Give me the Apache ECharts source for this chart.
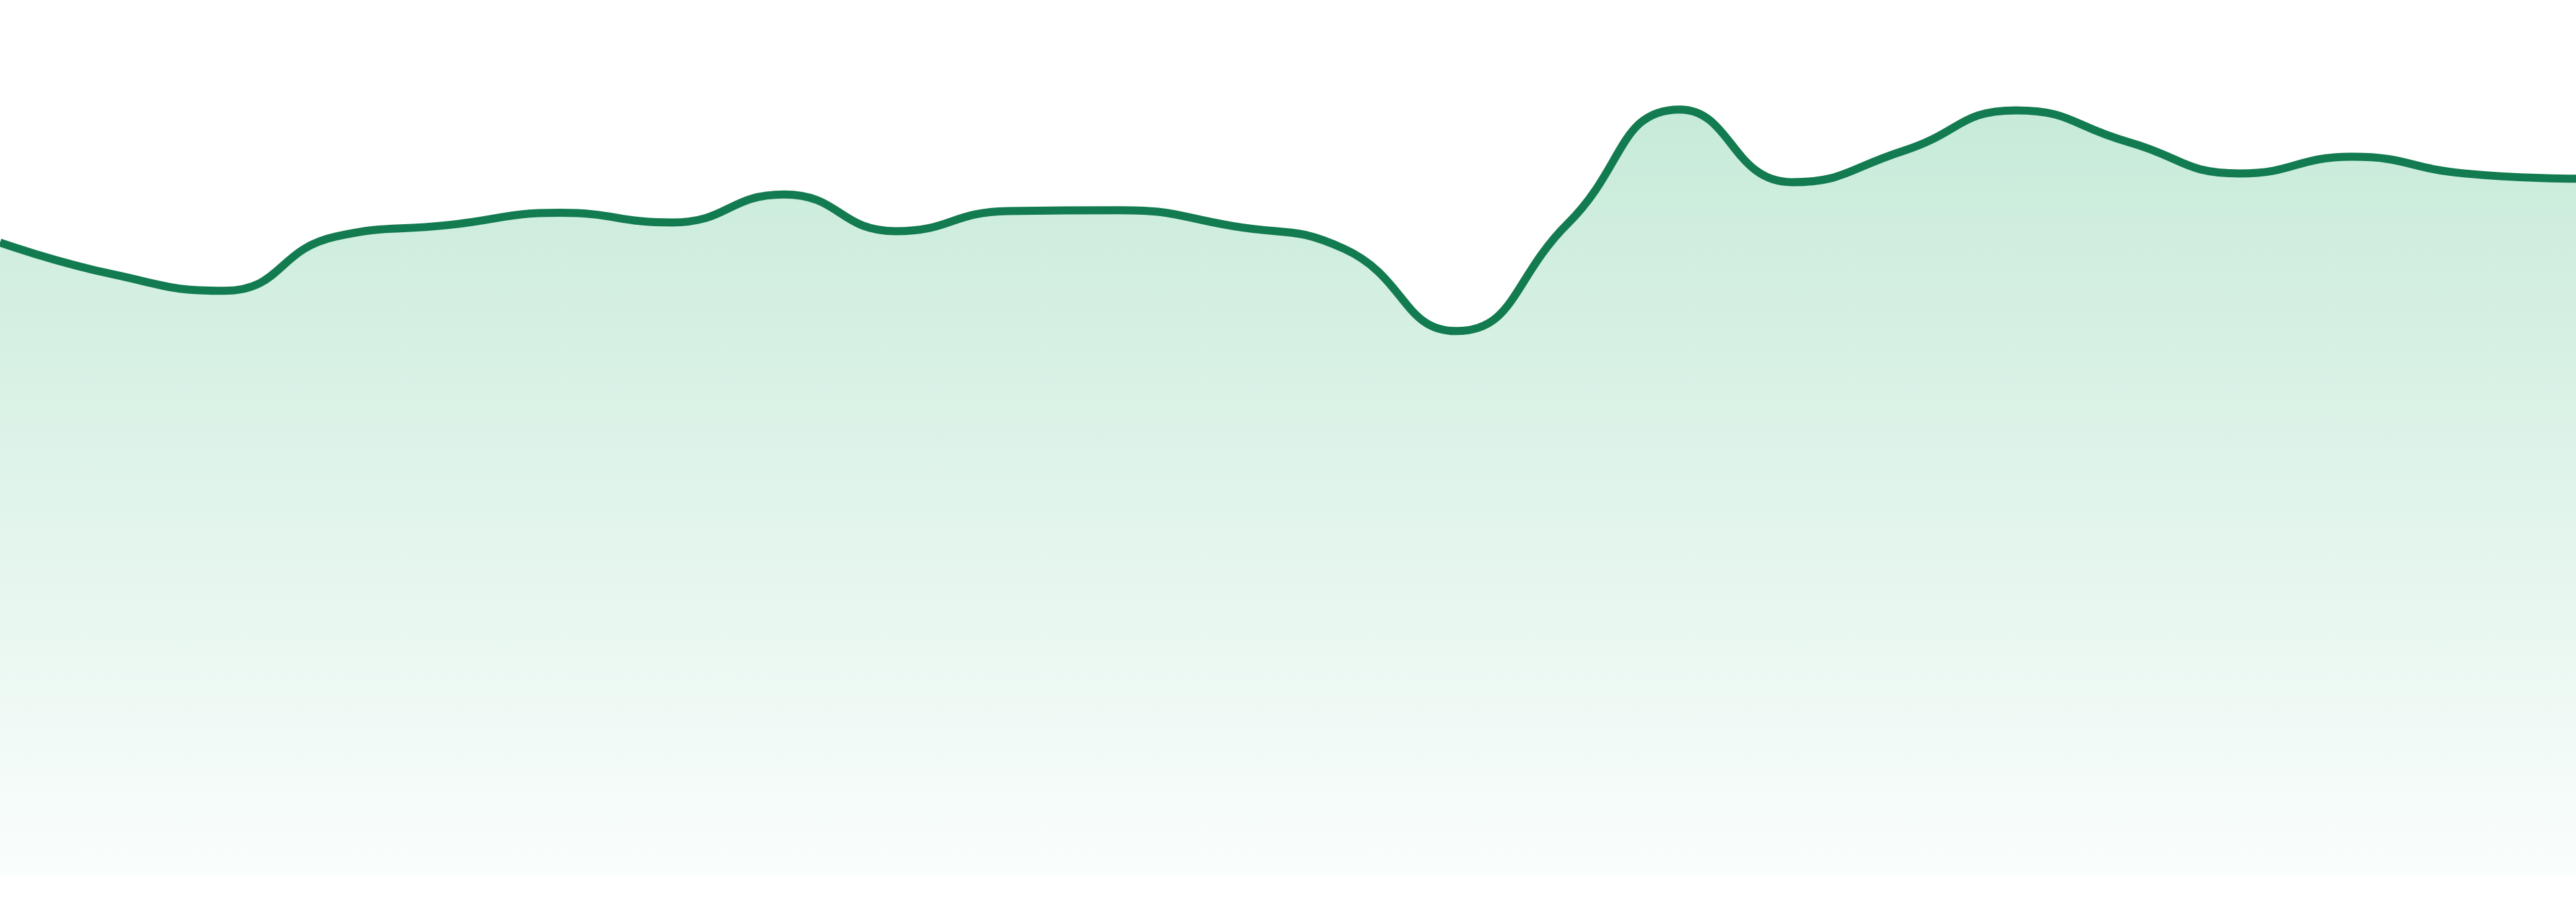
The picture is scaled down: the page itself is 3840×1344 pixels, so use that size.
<!DOCTYPE html>
<html>
<head>
<meta charset="utf-8">
<script src="https://cdn.jsdelivr.net/npm/echarts@6/dist/echarts.min.js"></script>
<style>
html,body{margin:0;padding:0;background:#ffffff;}
#chart{width:3840px;height:1344px;}
</style>
</head>
<body>
<div id="chart"></div>
<script>
const categories = ['1','2','3','4','5','6','7','8','9','10','11','12','13','14','15','16','17','18','19','20','21','22','23','24'];
const values = [72.3, 68.7, 66.8, 73.0, 74.3, 75.7, 74.6, 77.8, 73.6, 75.9, 76.0, 74.2, 71.6, 62.2, 74.5, 87.5, 79.2, 82.8, 87.4, 83.8, 80.2, 82.1, 80.2, 79.6];
const yMin = 0;
const yMax = 100;

const chart = echarts.init(document.getElementById('chart'));
chart.setOption({
  animation: false,
  backgroundColor: '#ffffff',
  grid: { left: 0, right: 0, top: 0, bottom: 39 },
  xAxis: {
    type: 'category',
    data: categories,
    boundaryGap: false,
    show: false
  },
  yAxis: {
    type: 'value',
    min: yMin,
    max: yMax,
    show: false
  },
  series: [{
    type: 'line',
    data: values,
    smooth: true,
    showSymbol: false,
    lineStyle: { color: '#137b50', width: 12 },
    itemStyle: { color: '#137b50' },
    areaStyle: {
      color: new echarts.graphic.LinearGradient(0, 160, 0, 1305, [
        { offset: 0, color: '#afe2c8' },
        { offset: 0.5, color: '#d3efe2' },
        { offset: 1, color: '#f8fdfb' }
      ], true)
    }
  }]
});
</script>
</body>
</html>
